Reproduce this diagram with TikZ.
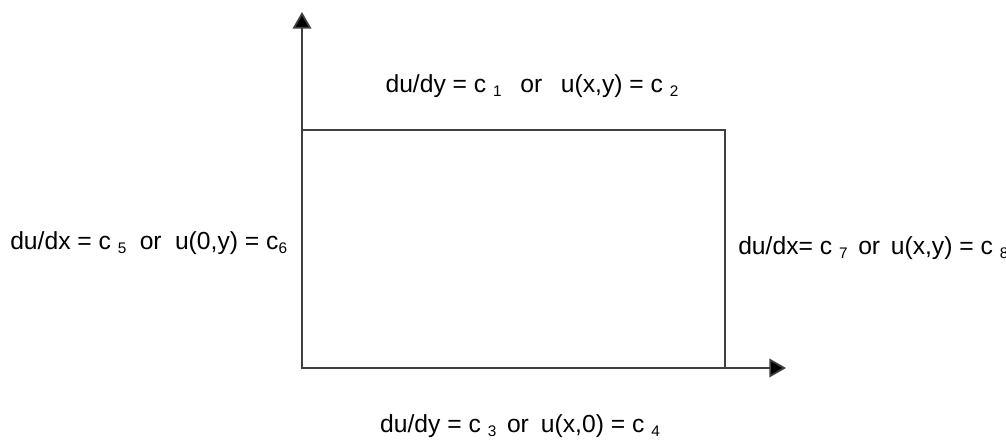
\documentclass[tikz,border=0pt]{standalone}
\usepackage{fontspec}
\setmainfont{Liberation Sans}
\usetikzlibrary{arrows.meta,positioning}
\newcommand{\idx}[1]{\raisebox{-2.5pt}{\fontsize{11.5}{12}\selectfont #1}}

\begin{document}
\begin{tikzpicture}[x=0.75pt, y=0.75pt,
  axis/.style={draw=black!75, line width=1.3pt, -{Triangle[length=12.5pt, width=14pt, fill=black]}},
  region/.style={draw=black!75, line width=1.3pt},
  bc/.style={inner sep=0pt, font=\fontsize{18.5}{22}\selectfont}
]
\useasboundingbox (0,0) rectangle (1006,441);
\coordinate (o) at (302,73);
\coordinate (tr) at (725,311);
\coordinate (ytip) at (302,429);
\coordinate (xtip) at (786,73);
\draw[region] (o) rectangle (tr);
\draw[axis] (o) -- (ytip);
\draw[axis] (o) -- (xtip);
\node[bc, anchor=base] (top) at (532,348) {du/dy = c \idx{1}\hspace{14pt}or\hspace{14pt}u(x,y) = c \idx{2}};
\node[bc, anchor=base west] (left) at (10,191) {du/dx = c \idx{5}\hspace{10pt}or\hspace{10pt}u(0,y) = c\idx{6}};
\node[bc, anchor=base west] (right) at (738,186) {du/dx= c \idx{7}\hspace{8pt}or\hspace{8pt}u(x,y) = c \idx{8}};
\node[bc, anchor=base] (bottom) at (520,8) {du/dy = c \idx{3}\hspace{8pt}or\hspace{9pt}u(x,0) = c \idx{4}};
\end{tikzpicture}
\end{document}
